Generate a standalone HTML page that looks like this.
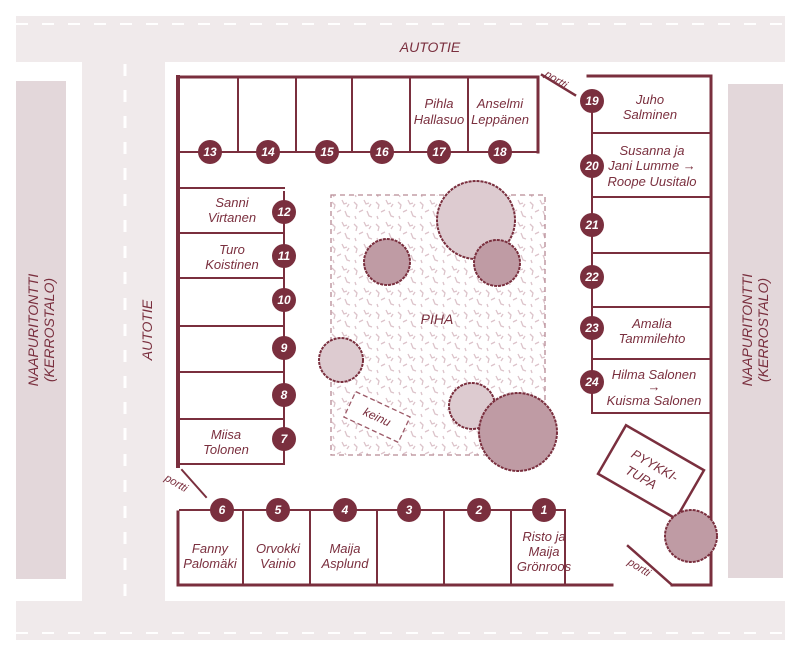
<!DOCTYPE html>
<html><head><meta charset="utf-8"><style>
html,body{margin:0;padding:0;background:#fff;}
svg{display:block;}
text{font-family:"Liberation Sans",sans-serif;font-style:italic;fill:#7a2f3e;}
.n{font-style:italic;font-weight:bold;fill:#fff;font-size:12px;text-anchor:middle;}
.l{font-size:13px;text-anchor:middle;}
</style></head><body>
<svg width="800" height="657" viewBox="0 0 800 657" xmlns="http://www.w3.org/2000/svg">
<defs>
<pattern id="tex" width="22" height="22" patternUnits="userSpaceOnUse">
<g stroke="#dcc3ca" stroke-width="1.3" fill="none">
<path d="M2 4 l3 3 l-1 4"/><path d="M12 2 l2 4 l3 -1"/><path d="M7 14 l4 -2"/><path d="M15 13 l2 5 l3 1"/><path d="M3 18 l1 3"/><path d="M19 6 l-2 3"/>
</g></pattern>
</defs>
<rect x="16" y="16" width="769" height="46" fill="#f0eaeb"/>
<rect x="82" y="16" width="83" height="600" fill="#f0eaeb"/>
<rect x="16" y="601" width="769" height="39" fill="#f0eaeb"/>
<line x1="16" y1="24" x2="785" y2="24" stroke="#fff" stroke-width="2" stroke-dasharray="12 14"/>
<line x1="16" y1="633" x2="785" y2="633" stroke="#fff" stroke-width="2" stroke-dasharray="12 14"/>
<line x1="125" y1="64" x2="125" y2="598" stroke="#fff" stroke-width="3" stroke-dasharray="12 14"/>
<text x="430" y="52" font-size="14" text-anchor="middle">AUTOTIE</text>
<text transform="translate(152,330) rotate(-90)" font-size="14" text-anchor="middle">AUTOTIE</text>
<rect x="16" y="81" width="50" height="498" fill="#e3d7da"/>
<rect x="728" y="84" width="55" height="494" fill="#e3d7da"/>
<text transform="translate(38,330) rotate(-90)" font-size="14" text-anchor="middle">NAAPURITONTTI</text>
<text transform="translate(54,330) rotate(-90)" font-size="14" text-anchor="middle">(KERROSTALO)</text>
<text transform="translate(752,330) rotate(-90)" font-size="14" text-anchor="middle">NAAPURITONTTI</text>
<text transform="translate(768,330) rotate(-90)" font-size="14" text-anchor="middle">(KERROSTALO)</text>
<rect x="331" y="195" width="214" height="260" fill="url(#tex)" stroke="#b78a95" stroke-width="1.3" stroke-dasharray="5 4"/>
<text x="437" y="324" font-size="14" text-anchor="middle">PIHA</text>
<g transform="translate(377,417) rotate(25)"><rect x="-30" y="-14" width="60" height="28" fill="#fff" stroke="#9c5a68" stroke-width="1.3" stroke-dasharray="5 3"/><text x="0" y="4" font-size="12" text-anchor="middle">keinu</text></g>
<g stroke="#7a2f3e" fill="none" stroke-linecap="square">
<path d="M178 77 H538 V152" stroke-width="3"/>
<path d="M178 77 V466" stroke-width="4"/>
<path d="M588 76 H711 V585 H672" stroke-width="3"/>
<path d="M178 512 V585 H612" stroke-width="3"/>
<path d="M628 546 L672 585" stroke-width="2.5"/>
<path d="M542 75 L575 95" stroke-width="2.5"/>
<path d="M182 470 L206 497" stroke-width="2"/>
<g stroke-width="2">
<path d="M180 152 H538"/>
<path d="M238 77 V152 M296 77 V152 M352 77 V152 M410 77 V152 M468 77 V152"/>
<path d="M284 192 V464 H180"/>
<path d="M180 188 H284 M180 233 H284 M180 278 H284 M180 326 H284 M180 372 H284 M180 419 H284"/>
<path d="M592 100 V413 H711"/>
<path d="M592 133 H711 M592 197 H711 M592 253 H711 M592 307 H711 M592 359 H711"/>
<path d="M180 510 H565 V585"/>
<path d="M243 510 V585 M310 510 V585 M377 510 V585 M444 510 V585 M511 510 V585"/>
</g>
</g>
<g transform="translate(651,472) rotate(30)"><rect x="-45" y="-28" width="90" height="56" fill="#fff" stroke="#7a2f3e" stroke-width="2.5"/>
<text x="0" y="-3" font-size="13" text-anchor="middle">PYYKKI-</text><text x="-6" y="14" font-size="13" text-anchor="middle">TUPA</text></g>
<g stroke="#7a2f3e" stroke-width="2" stroke-dasharray="3 1">
<circle cx="476" cy="220" r="39" fill="#ddcbd0"/>
<circle cx="497" cy="263" r="23" fill="#bf9ba4"/>
<circle cx="387" cy="262" r="23" fill="#bf9ba4"/>
<circle cx="341" cy="360" r="22" fill="#ddcbd0"/>
<circle cx="472" cy="406" r="23" fill="#ddcbd0"/>
<circle cx="518" cy="432" r="39" fill="#bf9ba4"/>
<circle cx="691" cy="536" r="26" fill="#bf9ba4"/>
</g>
<text transform="translate(544,76) rotate(32)" font-size="11">portti</text>
<text transform="translate(164,480) rotate(30)" font-size="11">portti</text>
<text transform="translate(627,564) rotate(32)" font-size="11">portti</text>
<g fill="#7a2f3e">
<circle cx="210" cy="152" r="12"/><circle cx="268" cy="152" r="12"/><circle cx="327" cy="152" r="12"/><circle cx="382" cy="152" r="12"/><circle cx="439" cy="152" r="12"/><circle cx="500" cy="152" r="12"/>
<circle cx="284" cy="212" r="12"/><circle cx="284" cy="256" r="12"/><circle cx="284" cy="300" r="12"/><circle cx="284" cy="348" r="12"/><circle cx="284" cy="395" r="12"/><circle cx="284" cy="439" r="12"/>
<circle cx="592" cy="101" r="12"/><circle cx="592" cy="166" r="12"/><circle cx="592" cy="225" r="12"/><circle cx="592" cy="277" r="12"/><circle cx="592" cy="328" r="12"/><circle cx="592" cy="382" r="12"/>
<circle cx="222" cy="510" r="12"/><circle cx="278" cy="510" r="12"/><circle cx="345" cy="510" r="12"/><circle cx="409" cy="510" r="12"/><circle cx="479" cy="510" r="12"/><circle cx="544" cy="510" r="12"/>
</g>
<g>
<text class="n" x="210" y="156">13</text><text class="n" x="268" y="156">14</text><text class="n" x="327" y="156">15</text><text class="n" x="382" y="156">16</text><text class="n" x="439" y="156">17</text><text class="n" x="500" y="156">18</text>
<text class="n" x="284" y="216">12</text><text class="n" x="284" y="260">11</text><text class="n" x="284" y="304">10</text><text class="n" x="284" y="352">9</text><text class="n" x="284" y="399">8</text><text class="n" x="284" y="443">7</text>
<text class="n" x="592" y="105">19</text><text class="n" x="592" y="170">20</text><text class="n" x="592" y="229">21</text><text class="n" x="592" y="281">22</text><text class="n" x="592" y="332">23</text><text class="n" x="592" y="386">24</text>
<text class="n" x="222" y="514">6</text><text class="n" x="278" y="514">5</text><text class="n" x="345" y="514">4</text><text class="n" x="409" y="514">3</text><text class="n" x="479" y="514">2</text><text class="n" x="544" y="514">1</text>
</g>
<text class="l" x="439" y="108">Pihla</text><text class="l" x="439" y="124">Hallasuo</text>
<text class="l" x="500" y="108">Anselmi</text><text class="l" x="500" y="124">Leppänen</text>
<text class="l" x="232" y="207">Sanni</text><text class="l" x="232" y="222">Virtanen</text>
<text class="l" x="232" y="254">Turo</text><text class="l" x="232" y="269">Koistinen</text>
<text class="l" x="226" y="439">Miisa</text><text class="l" x="226" y="454">Tolonen</text>
<text class="l" x="650" y="104">Juho</text><text class="l" x="650" y="119">Salminen</text>
<text class="l" x="652" y="155">Susanna ja</text><text class="l" x="652" y="170">Jani Lumme →</text><text class="l" x="652" y="186">Roope Uusitalo</text>
<text class="l" x="652" y="328">Amalia</text><text class="l" x="652" y="343">Tammilehto</text>
<text class="l" x="654" y="379">Hilma Salonen</text><text class="l" x="654" y="391">→</text><text class="l" x="654" y="405">Kuisma Salonen</text>
<text class="l" x="210" y="553">Fanny</text><text class="l" x="210" y="568">Palomäki</text>
<text class="l" x="278" y="553">Orvokki</text><text class="l" x="278" y="568">Vainio</text>
<text class="l" x="345" y="553">Maija</text><text class="l" x="345" y="568">Asplund</text>
<text class="l" x="544" y="541">Risto ja</text><text class="l" x="544" y="556">Maija</text><text class="l" x="544" y="571">Grönroos</text>
</svg>
</body></html>
